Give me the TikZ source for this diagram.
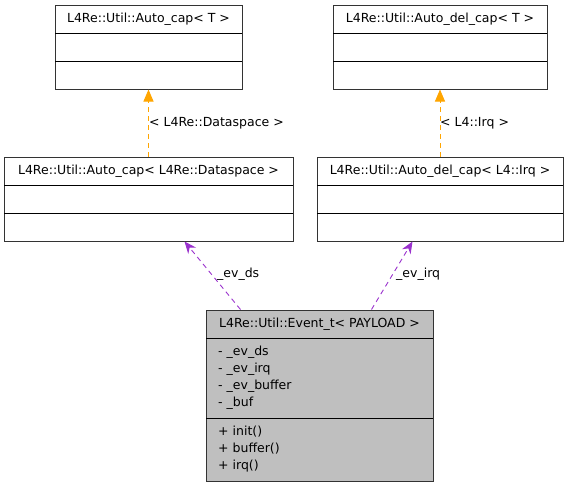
\documentclass[tikz,border=0pt]{standalone}
\usepackage{fontspec}
\setmainfont{DejaVu Sans}
\usetikzlibrary{arrows.meta,calc}
\definecolor{edgeorange}{HTML}{FFA500}
\definecolor{edgepurple}{HTML}{9A32CD}
\definecolor{boxgray}{HTML}{BFBFBF}
\definecolor{boxline}{HTML}{333333}
\tikzset{
  box/.style={draw=boxline, line width=1pt, inner sep=0pt},
  divider/.style={draw=black, line width=1pt},
  lbl/.style={font=\fontsize{12.5}{14}\selectfont, inner sep=0pt},
  member/.style={font=\fontsize{12.5}{14}\selectfont, inner sep=0pt, anchor=west},
  inherit/.style={draw=edgeorange, dashed, dash pattern=on 5pt off 4pt, line width=0.9pt, -{Triangle[length=12pt,width=10pt]}},
  collab/.style={draw=edgepurple, dashed, dash pattern=on 5pt off 4pt, line width=0.9pt, -{Stealth[length=12pt,width=10pt,inset=4pt]}},
}
\begin{document}
\begin{tikzpicture}[x=1pt,y=-1pt]
\useasboundingbox (0,0) rectangle (568,488);
% Box A
\node[box, minimum width=187pt, minimum height=84pt] (A) at (148.5,47) {};
\draw[divider] (55,33) -- (242,33) (55,61) -- (242,61);
\node[lbl] (At) at (148.5,19) {L4Re::Util::Auto\_cap< T >};
% Box B
\node[box, minimum width=214pt, minimum height=84pt] (B) at (440,47) {};
\draw[divider] (333,33) -- (547,33) (333,61) -- (547,61);
\node[lbl] (Bt) at (440,19) {L4Re::Util::Auto\_del\_cap< T >};
% Box C
\node[box, minimum width=289pt, minimum height=84pt] (C) at (148.5,199) {};
\draw[divider] (4,185) -- (293,185) (4,213) -- (293,213);
\node[lbl] (Ct) at (148.5,171) {L4Re::Util::Auto\_cap< L4Re::Dataspace >};
% Box D
\node[box, minimum width=246pt, minimum height=84pt] (D) at (440,199) {};
\draw[divider] (317,185) -- (563,185) (317,213) -- (563,213);
\node[lbl] (Dt) at (440,171) {L4Re::Util::Auto\_del\_cap< L4::Irq >};
% Box E
\node[box, fill=boxgray, minimum width=227pt, minimum height=171pt] (E) at (319.5,395.5) {};
\draw[divider] (206,338) -- (433,338) (206,418) -- (433,418);
\node[lbl] (Et) at (319.5,324) {L4Re::Util::Event\_t< PAYLOAD >};
\node[member] (m1) at (218,352) {- \_ev\_ds};
\node[member] (m2) at (218,369) {- \_ev\_irq};
\node[member] (m3) at (218,386) {- \_ev\_buffer};
\node[member] (m4) at (218,403) {- \_buf};
\node[member] (f1) at (218,432) {+ init()};
\node[member] (f2) at (218,449) {+ buffer()};
\node[member] (f3) at (218,466) {+ irq()};
% Edges
\draw[inherit] (C.north) -- (A.south);
\node[lbl, anchor=west] (l1) at (149,123) {< L4Re::Dataspace >};
\draw[inherit] (D.north) -- (B.south);
\node[lbl, anchor=west] (l2) at (440,123) {< L4::Irq >};
\draw[collab] ([xshift=35pt]E.north west) -- ([xshift=181pt]C.south west);
\node[lbl, anchor=west] (l3) at (217,274) {\_ev\_ds};
\draw[collab] ([xshift=166pt]E.north west) -- ([xshift=96pt]D.south west);
\node[lbl, anchor=west] (l4) at (396,274) {\_ev\_irq};
\end{tikzpicture}
\end{document}
